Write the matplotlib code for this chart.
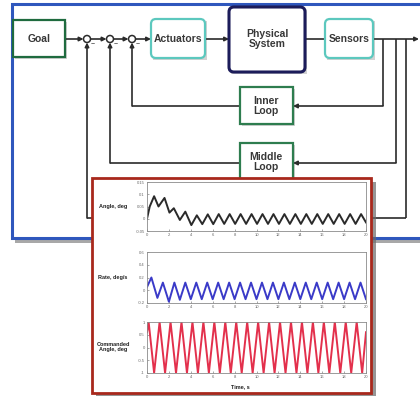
import matplotlib
matplotlib.use("Agg")
import matplotlib.pyplot as plt
from matplotlib.patches import Rectangle, FancyBboxPatch

plt.rcParams['font.family'] = ['Liberation Sans Narrow', 'Liberation Sans', 'DejaVu Sans']

# --- values ---
angle_t = [0, 0.25, 0.65, 1.05, 1.6, 2.05, 2.45, 3.0, 3.5, 4.05, 4.55, 5.05, 5.55,
           6.05, 6.55, 7.05, 7.55, 8.05, 8.55, 9.05, 9.55, 10.05, 10.55, 11.05, 11.55,
           12.05, 12.55, 13.05, 13.55, 14.05, 14.55, 15.05, 15.55, 16.05, 16.55,
           17.05, 17.55, 18.05, 18.55, 19.05, 19.55, 20.0]
angle_v = [0, 0.05, 0.092, 0.05, 0.085, 0.025, 0.043, -0.005, 0.029, -0.026, 0.014, -0.022, 0.018,
           -0.022, 0.019, -0.021, 0.019, -0.021, 0.019, -0.021, 0.019, -0.021, 0.019, -0.021, 0.019,
           -0.021, 0.019, -0.021, 0.019, -0.021, 0.019, -0.021, 0.019, -0.021, 0.019,
           -0.021, 0.019, -0.021, 0.019, -0.021, 0.019, -0.015]

rate_t = [0, 0.4, 0.95, 1.45, 2.0, 2.5, 3.0, 3.5, 4.0, 4.5, 5.0, 5.5, 6.0, 6.5, 7.0, 7.5,
          8.0, 8.5, 9.0, 9.5, 10.0, 10.5, 11.0, 11.5, 12.0, 12.5, 13.0, 13.5, 14.0, 14.5,
          15.0, 15.5, 16.0, 16.5, 17.0, 17.5, 18.0, 18.5, 19.0, 19.5, 20.0]
rate_v = [0.05, 0.2, -0.12, 0.12, -0.18, 0.12, -0.15, 0.12, -0.14, 0.12, -0.14, 0.12, -0.14,
          0.12, -0.14, 0.12, -0.14, 0.12, -0.14, 0.12, -0.14, 0.12, -0.14, 0.12, -0.14,
          0.12, -0.14, 0.12, -0.14, 0.12, -0.14, 0.12, -0.14, 0.12, -0.14, 0.12, -0.14,
          0.12, -0.14, 0.12, -0.14]

cmd_t = [0, 0.15, 0.65, 1.15, 1.65, 2.15, 2.65, 3.15, 3.65, 4.15, 4.65, 5.15, 5.65, 6.15,
         6.65, 7.15, 7.65, 8.15, 8.65, 9.15, 9.65, 10.15, 10.65, 11.15, 11.65, 12.15, 12.65,
         13.15, 13.65, 14.15, 14.65, 15.15, 15.65, 16.15, 16.65, 17.15, 17.65, 18.15, 18.65,
         19.15, 19.65, 20.0]
cmd_v = [0.6, 1, -1, 1, -1, 1, -1, 1, -1, 1, -1, 1, -1, 1,
         -1, 1, -1, 1, -1, 1, -1, 1, -1, 1, -1, 1, -1,
         1, -1, 1, -1, 1, -1, 1, -1, 1, -1, 1, -1,
         1, -1, 0.6]

time_ticks = [0, 2, 4, 6, 8, 10, 12, 14, 16, 18, 20]
angle_ticks = [-0.05, 0, 0.05, 0.1, 0.15]
rate_ticks = [-0.2, 0, 0.2, 0.4, 0.6]
cmd_ticks = [-1, -0.5, 0, 0.5, 1]

W, H = 420, 396
fig = plt.figure(figsize=(W / 100, H / 100), dpi=100)
ax = fig.add_axes([0, 0, 1, 1])
ax.set_xlim(0, W)
ax.set_ylim(H, 0)
ax.axis('off')

line_c = '#2b2b2b'
txt_c = '#383838'
font = dict(fontsize=7.5, fontweight='bold', color=txt_c, ha='center', va='center')

# outer blue frame with shadow
ax.add_patch(Rectangle((15, 8), 410, 235, facecolor='#6e6e6e', edgecolor='none', alpha=0.6, zorder=0))
ax.add_patch(Rectangle((12, 4), 412, 234, facecolor='white', edgecolor='#2f57bd', lw=2.2, zorder=1))


def box(x0, y0, x1, y1, color, rounded=False, lw=1.6):
    ax.add_patch(Rectangle((x0 + 2, y0 + 2), x1 - x0, y1 - y0, facecolor='#d2d2d2',
                           edgecolor='none', zorder=2))
    if rounded:
        p = FancyBboxPatch((x0, y0), x1 - x0, y1 - y0, boxstyle='round,pad=0,rounding_size=5',
                           facecolor='white', edgecolor=color, lw=lw, zorder=3)
    else:
        p = Rectangle((x0, y0), x1 - x0, y1 - y0, facecolor='white', edgecolor=color, lw=lw, zorder=3)
    ax.add_patch(p)


def arrow(p0, p1):
    ax.annotate('', xy=p1, xytext=p0,
                arrowprops=dict(arrowstyle='-|>', color=line_c, lw=1.2, mutation_scale=6,
                                shrinkA=0, shrinkB=0), zorder=2)


def seg(xs, ys):
    ax.plot(xs, ys, color=line_c, lw=1.2, zorder=2, solid_capstyle='butt')


box(13, 20, 65, 57, '#1f6b3f')
box(151, 19, 205, 58, '#5cc8be', rounded=True)
box(229, 7, 305, 72, '#1c1c5a', rounded=True, lw=2.2)
box(325, 19, 373, 58, '#5cc8be', rounded=True)
box(240, 87, 293, 124, '#2e7d4f')
box(240, 143, 293, 181, '#2e7d4f')

ax.text(39, 39, 'Goal', **font)
ax.text(178, 39, 'Actuators', **font)
ax.text(267, 39, 'Physical\nSystem', linespacing=1.0, **font)
ax.text(349, 39, 'Sensors', **font)
ax.text(266, 106, 'Inner\nLoop', linespacing=1.0, **font)
ax.text(266, 162, 'Middle\nLoop', linespacing=1.0, **font)

# forward path
cy = 39
circles = [87, 110, 132]
r = 3.5
arrow((65, cy), (circles[0] - r, cy))
arrow((circles[0] + r, cy), (circles[1] - r, cy))
arrow((circles[1] + r, cy), (circles[2] - r, cy))
arrow((circles[2] + r, cy), (151, cy))
arrow((205, cy), (229, cy))
seg([305, 325], [cy, cy])
arrow((373, cy), (419, cy))
for cx in circles:
    ax.add_patch(plt.Circle((cx, cy), r, facecolor='white', edgecolor=line_c, lw=1.1, zorder=4))
    ax.text(cx + 6, cy + 6, '−', fontsize=5, color=txt_c, ha='center', va='center')

# inner loop
seg([383, 383], [cy, 106])
arrow((383, 106), (293, 106))
seg([240, circles[2]], [106, 106])
arrow((circles[2], 106), (circles[2], cy + r))
# middle loop
seg([396, 396], [cy, 163])
arrow((396, 163), (293, 163))
seg([240, circles[1]], [163, 163])
arrow((circles[1], 163), (circles[1], cy + r))
# outer loop
seg([406, 406], [cy, 218])
seg([406, 360], [218, 218])
seg([100, circles[0]], [218, 218])
arrow((circles[0], 218), (circles[0], cy + r))

# inset panel with shadow
ax.add_patch(Rectangle((96, 182), 280, 216, facecolor='#6a6a6a', edgecolor='none', alpha=0.7, zorder=5))
ax.add_patch(Rectangle((92, 178), 279, 215, facecolor='white', edgecolor='#a8281c', lw=2.0, zorder=6))


def panel(top, bottom, t, v, color, ticks, label):
    a = fig.add_axes([147 / W, 1 - bottom / H, 219 / W, (bottom - top) / H])
    a.plot(t, v, color=color, lw=1.4)
    a.set_xlim(0, 20)
    a.set_ylim(ticks[0], ticks[-1])
    a.set_xticks(time_ticks)
    a.set_yticks(ticks)
    a.set_yticklabels([f'{k:g}' for k in ticks])
    a.tick_params(labelsize=3, colors='#666666', length=1.5, width=0.4, direction='in', pad=1.5)
    for s in a.spines.values():
        s.set_color('#8a8a8a')
        s.set_linewidth(0.6)
    a.set_ylabel(label, rotation=0, fontsize=4, fontweight='bold', color='#222222',
                 ha='center', va='center', labelpad=0, linespacing=1.0)
    a.yaxis.set_label_coords(-0.155, 0.5)
    return a


panel(182, 231, angle_t, angle_v, '#2a2a2a', angle_ticks, 'Angle, deg')
panel(252, 303, rate_t, rate_v, '#3a3ac8', rate_ticks, 'Rate, deg/s')
panel(322, 373, cmd_t, cmd_v, '#e3304c', cmd_ticks, 'Commanded\nAngle, deg')
fig.text(240 / W, 1 - 387 / H, 'Time, s', fontsize=4, fontweight='bold', color='#222222',
         ha='center', va='center')

fig.savefig('out.png', dpi=100)
